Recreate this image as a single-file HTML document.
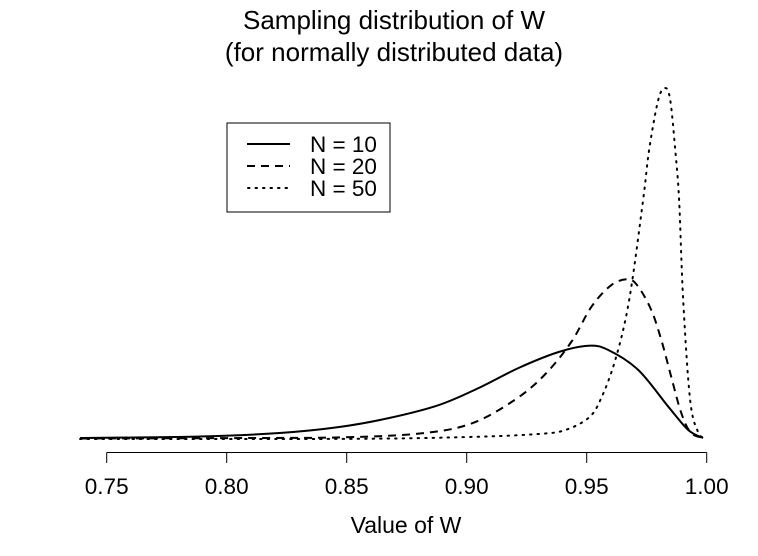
<!DOCTYPE html>
<html><head><meta charset="utf-8"><style>
html,body{margin:0;padding:0;background:#fff;}
svg{display:block;font-family:"Liberation Sans",Arial,sans-serif;}
</style></head><body>
<svg id="chart" width="758" height="556" viewBox="0 0 758 556">
<text x="394" y="29" text-anchor="middle" font-size="26">Sampling distribution of W</text>
<text x="394" y="61" text-anchor="middle" font-size="26">(for normally distributed data)</text>
<g id="axis"></g>
<g id="series"></g>
<text x="406" y="533" text-anchor="middle" font-size="23">Value of W</text>
<g>
<rect x="227" y="123" width="163" height="89" fill="#fff" stroke="#000" stroke-width="1"/>
<line x1="247" y1="144" x2="290" y2="144" stroke="#000" stroke-width="2"/>
<text x="310" y="152" font-size="22.5">N = 10</text>
<line x1="247" y1="166" x2="290" y2="166" stroke="#000" stroke-width="2" stroke-dasharray="8 6"/>
<text x="310" y="174" font-size="22.5">N = 20</text>
<line x1="248" y1="188" x2="290" y2="188" stroke="#000" stroke-width="2" stroke-dasharray="1.5 6" stroke-linecap="round"/>
<text x="310" y="196" font-size="22.5">N = 50</text>
</g>
</svg>
<script>
const tickValues = [0.75, 0.80, 0.85, 0.90, 0.95, 1.00];
const tickLabels = ["0.75", "0.80", "0.85", "0.90", "0.95", "1.00"];
const w10 = [0.7389,0.7888,0.8220,0.8469,0.8677,0.8884,0.9050,0.9216,0.9383,0.9507,0.9590,0.9715,0.9840,0.9923,0.9985];
const d10 = [0.13,0.33,0.8,1.6,2.8,4.53,6.8,9.47,11.6,12.44,11.87,9.2,4.31,1.2,0.13];
const w20 = [0.7389,0.8096,0.8497,0.8814,0.9022,0.9204,0.9329,0.9437,0.9520,0.9603,0.9674,0.9715,0.9769,0.9811,0.9852,0.9894,0.9935,0.9993];
const d20 = [0.07,0.13,0.23,0.76,2.09,5.3,8.7,13.0,17.64,20.53,21.29,20.3,17.2,13.2,8.31,3.47,0.8,0.13];
const w50 = [0.7389,0.8505,0.9009,0.9300,0.9411,0.9507,0.9557,0.9619,0.9677,0.9735,0.9760,0.9798,0.9827,0.9848,0.9869,0.9885,0.9902,0.9931,0.9964,0.9993];
const d50 = [0,0.02,0.27,0.67,1.2,2.8,5.2,10.53,18.53,31.87,38.53,45.2,46.8,45.2,38.53,31.87,18.53,5.2,0.93,0.13];

const NS = "http://www.w3.org/2000/svg";
function xs(v){ return 106.7 + (v - 0.75) / 0.25 * 600; }
function ys(d){ return 439 - d * 7.5; }

const axis = document.getElementById('axis');
const axLine = document.createElementNS(NS, 'line');
axLine.setAttribute('x1', xs(tickValues[0])); axLine.setAttribute('x2', xs(tickValues[tickValues.length-1]));
axLine.setAttribute('y1', 452.5); axLine.setAttribute('y2', 452.5);
axLine.setAttribute('stroke', '#000'); axLine.setAttribute('stroke-width', '1');


axis.appendChild(axLine);
tickValues.forEach((v, i) => {
  const t = document.createElementNS(NS, 'line');
  t.setAttribute('x1', xs(v)); t.setAttribute('x2', xs(v));
  t.setAttribute('y1', 452.5); t.setAttribute('y2', 463);
  t.setAttribute('stroke', '#000'); t.setAttribute('stroke-width', '1');
  
  
  axis.appendChild(t);
  const lb = document.createElementNS(NS, 'text');
  lb.setAttribute('x', xs(v)); lb.setAttribute('y', 494);
  lb.setAttribute('text-anchor', 'middle'); lb.setAttribute('font-size', '22.5');
  lb.textContent = tickLabels[i];
  
  
  axis.appendChild(lb);
});

function pathFor(ws, ds){
  const p = ws.map((w, i) => [xs(w), ys(ds[i])]);
  let s = 'M' + p[0][0] + ',' + p[0][1];
  for (let i = 0; i < p.length - 1; i++) {
    const p0 = p[Math.max(i-1,0)], p1 = p[i], p2 = p[i+1], p3 = p[Math.min(i+2,p.length-1)];
    const c1x = p1[0] + (p2[0]-p0[0])/6, c1y = p1[1] + (p2[1]-p0[1])/6;
    const c2x = p2[0] - (p3[0]-p1[0])/6, c2y = p2[1] - (p3[1]-p1[1])/6;
    s += ' C' + c1x + ',' + c1y + ' ' + c2x + ',' + c2y + ' ' + p2[0] + ',' + p2[1];
  }
  return s;
}
const series = document.getElementById('series');
function addSeries(ws, ds, dash, name){
  const el = document.createElementNS(NS, 'path');
  el.setAttribute('d', pathFor(ws, ds));
  el.setAttribute('fill', 'none'); el.setAttribute('stroke', '#000');
  el.setAttribute('stroke-width', '2');
  if (dash) { el.setAttribute('stroke-dasharray', dash); }
  if (name === 'n50') el.setAttribute('stroke-linecap', 'round');
  
  
  series.appendChild(el);
}
addSeries(w10, d10, null, 'n10');
addSeries(w20, d20, '8 6', 'n20');
addSeries(w50, d50, '1.5 6', 'n50');
</script>
</body></html>
